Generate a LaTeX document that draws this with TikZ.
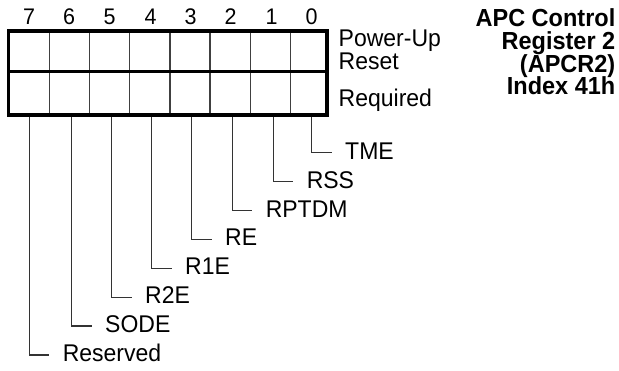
\documentclass[tikz,border=0pt]{standalone}
\usepackage{fontspec}
\setmainfont{Liberation Sans}
\newcommand{\vst}[1]{\scalebox{1}[1.05]{#1}}
\begin{document}
\begin{tikzpicture}[x=1pt,y=-1pt,
  lab/.style={font=\fontsize{23}{26}\selectfont, inner sep=0pt, outer sep=0pt, text height=13.2pt, text depth=0pt, anchor=west},
  dig/.style={font=\fontsize{21.5}{24}\selectfont, inner sep=0pt, anchor=base},
  side/.style={font=\fontsize{23}{26}\selectfont, inner sep=0pt, anchor=base west},
  ttl/.style={font=\fontsize{23.5}{26}\selectfont\bfseries, inner sep=0pt, anchor=base east},
  thin/.style={line width=1.3pt, draw=black!75},
  lead/.style={line width=1.3pt, draw=black!80},
  thick/.style={line width=3.4pt, draw=black}]
\useasboundingbox (0,0) rectangle (619,371);
% grid
\foreach \x in {49.3,89.3,129.3,170,210,250.3,290.7}
  \draw[thin] (\x,31) -- (\x,115);
\draw[thick] (8.4,71.5) -- (326.8,71.5);
\draw[thick] (8.4,31) rectangle (326.8,115);
% bit numbers
\node[dig] (d7) at (29,25) {\vst{7}};
\node[dig] (d6) at (69,25) {\vst{6}};
\node[dig] (d5) at (109.5,25) {\vst{5}};
\node[dig] (d4) at (150.5,25) {\vst{4}};
\node[dig] (d3) at (190.5,25) {\vst{3}};
\node[dig] (d2) at (230.5,25) {\vst{2}};
\node[dig] (d1) at (271.5,25) {\vst{1}};
\node[dig] (d0) at (311.5,25) {\vst{0}};
% side labels
\node[side] (pu) at (338.5,46.7) {\vst{Power-Up}};
\node[side] (rs) at (338.5,70) {\vst{Reset}};
\node[side] (rq) at (338.5,106.7) {\vst{Required}};
% title
\node[ttl] (t1) at (615.5,27) {\vst{APC Control}};
\node[ttl] (t2) at (615.5,49.7) {\vst{Register 2}};
\node[ttl] (t3) at (615.5,72.4) {\vst{(APCR2)}};
\node[ttl] (t4) at (615.5,95) {\vst{Index 41h}};
% leader tops
\coordinate (b0) at (311.7,117);
\coordinate (b1) at (273.3,117);
\coordinate (b2) at (232.3,117);
\coordinate (b3) at (191.7,117);
\coordinate (b4) at (151.7,117);
\coordinate (b5) at (111.7,117);
\coordinate (b6) at (71.7,117);
\coordinate (b7) at (29.3,117);
% field labels
\node[lab] (l0) at (311.7+33.5,152.7) {\vst{TME}};
\node[lab] (l1) at (273.3+33.5,181.6) {\vst{RSS}};
\node[lab] (l2) at (232.3+33.5,210.5) {\vst{RPTDM}};
\node[lab] (l3) at (191.7+33.5,239.4) {\vst{RE}};
\node[lab] (l4) at (151.7+33.5,268.3) {\vst{R1E}};
\node[lab] (l5) at (111.7+33.5,297.2) {\vst{R2E}};
\node[lab] (l6) at (71.7+33.5,326.1) {\vst{SODE}};
\node[lab] (l7) at (29.3+33.5,355.0) {\vst{Reserved}};
\foreach \i in {0,...,7}
  \draw[lead] (b\i) |- ([xshift=-13.5pt]l\i.west);
\end{tikzpicture}
\end{document}
